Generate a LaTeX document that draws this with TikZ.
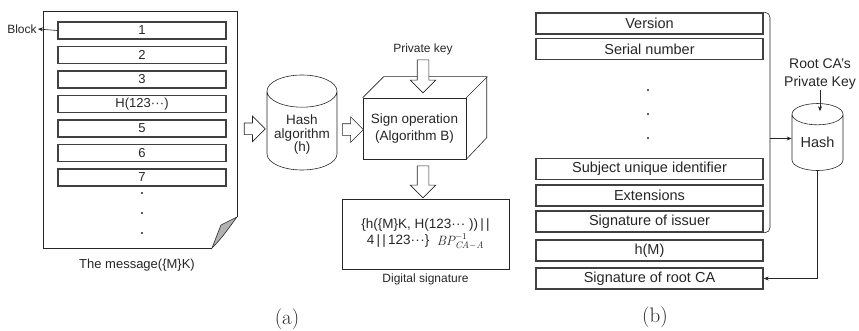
\documentclass[tikz,border=0pt]{standalone}
\usepackage{fontspec}
\setsansfont{Liberation Sans}
\renewcommand{\familydefault}{\sfdefault}
\usetikzlibrary{positioning,calc,shapes.geometric,shapes.arrows,arrows.meta}
\newcommand{\midots}{\textperiodcentered\kern.02em\textperiodcentered\kern.02em\textperiodcentered}
\tikzset{
  blockbox/.style={draw=black!75, line width=1.3pt,
    minimum width=168pt, minimum height=17pt, inner sep=0pt,
    font=\fontsize{13}{15}\selectfont},
  fieldbox/.style={draw=black!75, line width=1.3pt,
    minimum width=227pt, minimum height=21pt, inner sep=0pt,
    font=\fontsize{14.5}{16}\selectfont},
  hollowarrow/.style={single arrow, draw, fill=white, inner xsep=0pt, inner ysep=5.5pt,
    minimum height=21pt, single arrow head extend=7pt},
  can/.style={cylinder, shape border rotate=90, draw, inner sep=0pt, align=center},
  lbl/.style={inner sep=1pt, font=\fontsize{12}{14}\selectfont},
  caption/.style={font=\rmfamily\fontsize{21}{23}\selectfont}
}
\begin{document}
\begin{tikzpicture}[x=1pt, y=-1pt, line width=0.6pt, color=black!85,
    >={Stealth[length=5pt,width=4pt]}]
  \useasboundingbox (0,0) rectangle (859,331);

  % (a) the message with its blocks
  \draw[line width=0.8pt] (212,248) -- (43,248) -- (43,11) -- (237,11) -- (237,217);
  \draw[fill=black!30] (212,248) .. controls (224,236) and (230,226) .. (237,217)
    -- (221,225) -- cycle;
  \coordinate (pgE) at (237,127);
  \foreach \t [count=\i] in {1,2,3,{H(123\midots)},5,6,7}
    \node[blockbox] (b\i) at (142,{6+24.5*\i}) {\t};
  \foreach \y in {193,213,233}
    \fill (142,\y) circle (1.1pt);
  \node[lbl] (blk) at (22,29) {Block};
  \draw[->] (b1.west) -- (blk.east);
  \node[lbl, font=\fontsize{13}{15}\selectfont] (msg) at (137,265) {The message(\{M\}K)};

  % hashing and signing
  \node[can, anchor=shape center, minimum width=70pt, minimum height=95pt, aspect=0.58,
    font=\fontsize{13.5}{12.5}\selectfont] (hash) at (302,122.5)
    {\raisebox{-8pt}[0pt][0pt]{\begin{tabular}{@{}c@{}}Hash\\algorithm\\(h)\end{tabular}}};
  \node[hollowarrow] (ar1) at ($(pgE)!.5!(hash.west)$) {};
  \node[draw, minimum width=103pt, minimum height=61pt, align=center,
    font=\fontsize{13.5}{17}\selectfont] (sign) at (414.5,128.5) {Sign operation\\(Algorithm B)};
  \draw (sign.north west) -- ++(21,-21) -- ++(103,0) -- ++(0,61) -- (sign.south east);
  \draw (sign.north east) -- ++(21,-21);
  \node[hollowarrow] (ar2) at ($(hash.east)!.5!(sign.west)$) {};
  \node[lbl] (pk) at (423,49) {Private key};
  \node[hollowarrow, rotate=-90, minimum height=33pt] (ar3) at (423,73.5) {};
  \node[draw, minimum width=167pt, minimum height=70pt, align=center,
    font=\fontsize{13.5}{16}\selectfont] (dsig) at (425.5,234)
    {\{h(\{M\}K, H(123\midots\ ))\,|\,|\\4\,|\,|\,123\midots\}\ \ \raisebox{-1pt}{$\mathit{BP}^{-1}_{\mathit{CA-A}}$}};
  \node[hollowarrow, rotate=-90, minimum height=32pt] (ar4) at (423,179) {};
  \node[lbl, below=3pt of dsig] (dsiglbl) {Digital signature};
  \node[caption] (capa) at (287,319) {(a)};

  % (b) certificate fields
  \foreach \n/\y/\t in {ver/23.5/Version, ser/49/Serial number,
      sui/169/Subject unique identifier, ext/195.5/Extensions,
      iss/221.5/Signature of issuer, hm/250.5/h(M), rca/278.5/Signature of root CA}
    \node[fieldbox] (\n) at (649.5,\y) {\t};
  \foreach \y in {90,114,138}
    \fill (648,\y) circle (1.1pt);
  \node[can, minimum width=51pt, minimum height=67pt, aspect=0.63,
    font=\fontsize{14.5}{16}\selectfont] (hashb) at (817.5,142.5) {Hash};
  \coordinate (brk) at (770,138.5);
  \draw[rounded corners=5pt] (ver.north east) -| (brk) |- (iss.south east);
  \draw[->] (brk) -- (brk -| hashb.west);
  \node[align=center, inner sep=0pt, font=\fontsize{14}{18}\selectfont] (rootpk) at (820,74)
    {Root CA's\\Private Key};
  \draw[->] (rootpk.south) -- ($(rootpk.south |- hashb.north)+(0,8)$);
  \draw[->] (hashb.south) |- (rca.east);
  \node[caption] (capb) at (655,317) {(b)};
\end{tikzpicture}
\end{document}
